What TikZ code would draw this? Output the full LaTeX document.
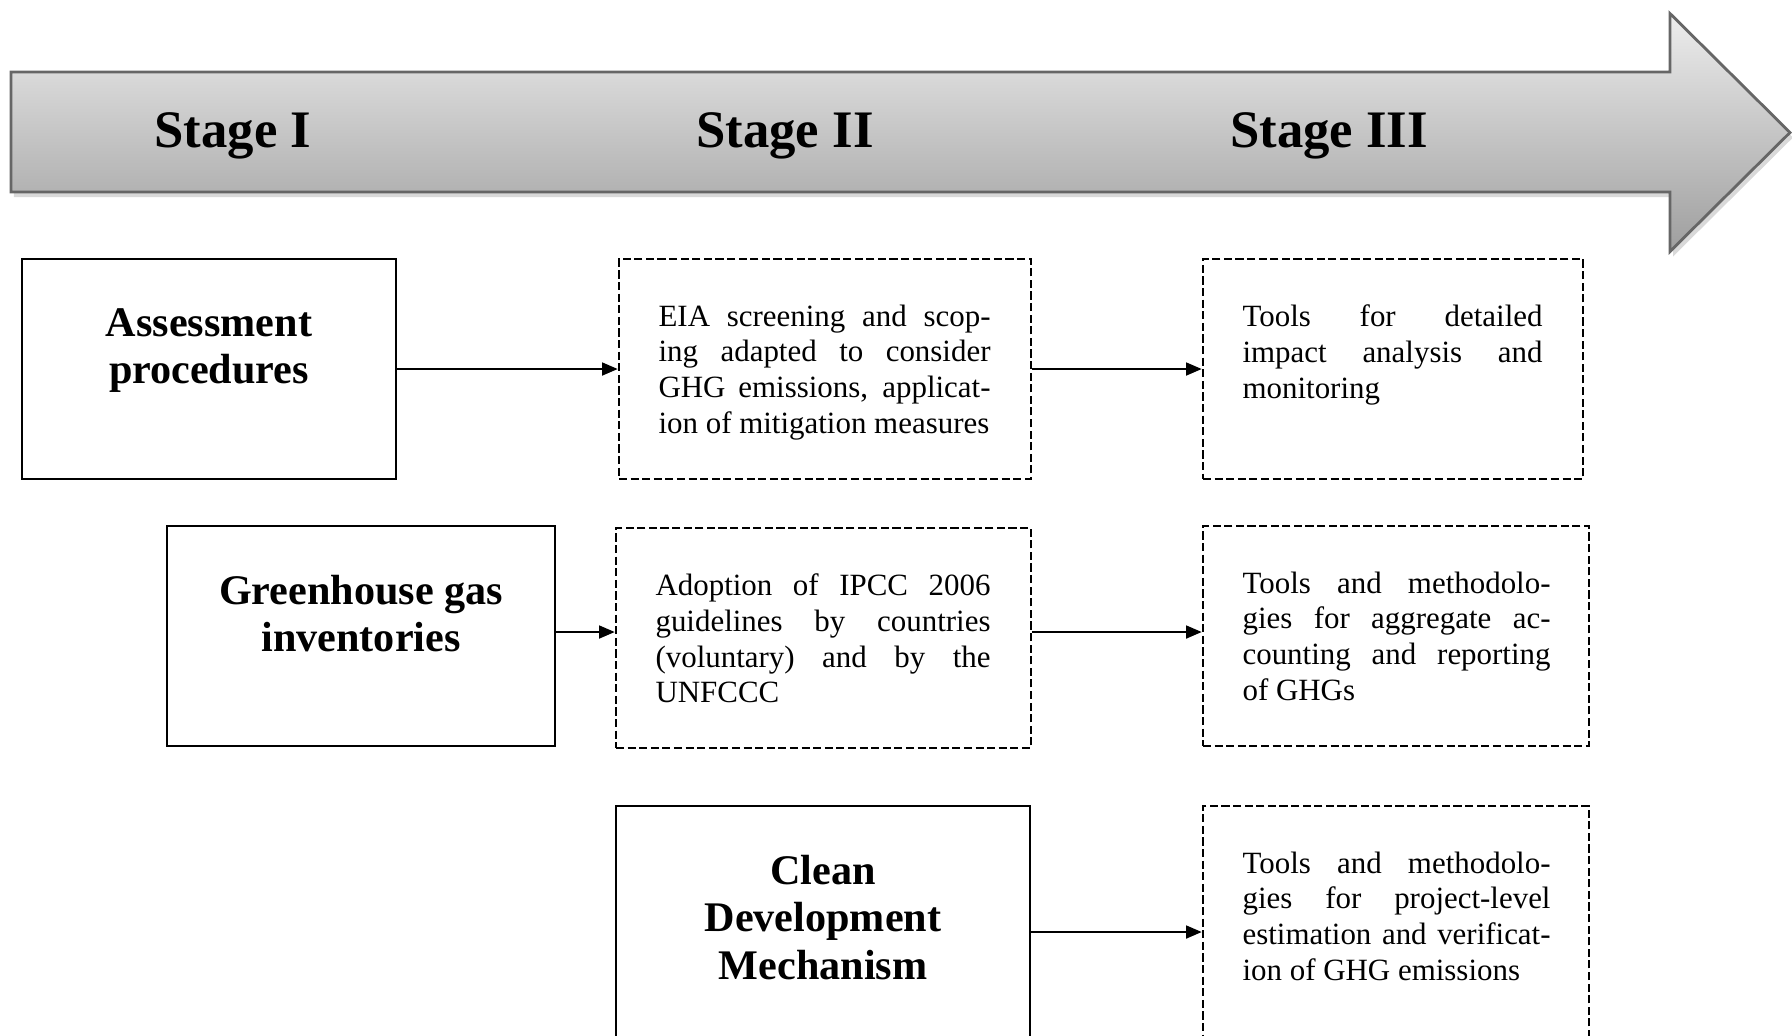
\documentclass[tikz,border=0pt]{standalone}
\usepackage{fontspec}
\setmainfont{Liberation Serif}
\usetikzlibrary{positioning}
\usetikzlibrary{arrows.meta}
\usetikzlibrary{shadows}

\begin{document}
\begin{tikzpicture}[%
  >={Triangle[length=4.5pt,width=3.6pt]},
  plainbox/.style={draw, line width=0.65pt, inner sep=0pt},
  dashbox/.style={plainbox, dash pattern=on 2.3pt off 1pt},
  headtext/.style={align=center, inner sep=0pt,
    font=\fontsize{12}{13.4}\selectfont\bfseries},
  notetext/.style={align=justify, inner sep=0pt,
    font=\fontsize{8.8}{10.2}\selectfont,
    execute at begin node={\tolerance=10000 }},
  stagelabel/.style={anchor=base, font=\fontsize{15}{18}\selectfont\bfseries},
  link/.style={->, line width=0.8pt}
]

  \useasboundingbox (0,0) rectangle (17.92,-10.35);
  \clip (0,0) rectangle (17.92,-10.35);

  \path[draw=black!60, line width=0.8pt, top color=black!7, bottom color=black!38,
        drop shadow={shadow xshift=0.03cm, shadow yshift=-0.05cm, opacity=0.3}]
    (0.11,-0.72) -- (16.70,-0.72) -- (16.70,-0.135) -- (17.90,-1.325)
    -- (16.70,-2.515) -- (16.70,-1.92) -- (0.11,-1.92) -- cycle;

  \node[stagelabel] (stage1) at (2.33,-1.47) {Stage I};
  \node[stagelabel] (stage2) at (7.85,-1.47) {Stage II};
  \node[stagelabel] (stage3) at (13.29,-1.47) {Stage III};

  \node[plainbox, minimum width=3.74cm, minimum height=2.20cm] (assess) at (2.09,-3.69) {};
  \node[dashbox, minimum width=4.12cm, minimum height=2.20cm] (eia) at (8.25,-3.69) {};
  \node[dashbox, minimum width=3.80cm, minimum height=2.20cm] (detail) at (13.93,-3.69) {};

  \node[plainbox, minimum width=3.88cm, minimum height=2.20cm] (ghg) at (3.61,-6.36) {};
  \node[dashbox, minimum width=4.15cm, minimum height=2.20cm] (ipcc) at (8.235,-6.38) {};
  \node[dashbox, minimum width=3.86cm, minimum height=2.20cm] (aggregate) at (13.96,-6.36) {};

  \node[plainbox, minimum width=4.14cm, minimum height=2.52cm] (cdm) at (8.23,-9.32) {};
  \node[dashbox, minimum width=3.86cm, minimum height=2.52cm] (project) at (13.96,-9.32) {};

  \node[headtext, below=0.50cm of assess.north] (assesstext) {Assessment\\procedures};
  \node[headtext, below=0.50cm of ghg.north] (ghgtext) {Greenhouse gas\\inventories};
  \node[headtext, below=0.50cm of cdm.north] (cdmtext) {Clean\\Development\\Mechanism};

  \node[notetext, text width=3.32cm, below right=0.46cm and 0.40cm of eia.north west] (eiatext)
    {EIA screening and scop-\linebreak ing adapted to consider\linebreak GHG emissions, applicat-\linebreak ion of mitigation measures};
  \node[notetext, text width=3.00cm, below right=0.46cm and 0.40cm of detail.north west] (detailtext)
    {Tools for detailed\linebreak impact analysis and\linebreak monitoring};
  \node[notetext, text width=3.35cm, below right=0.46cm and 0.40cm of ipcc.north west] (ipcctext)
    {Adoption of IPCC 2006\linebreak guidelines by countries\linebreak (voluntary) and by the\linebreak UNFCCC};
  \node[notetext, text width=3.08cm, below right=0.46cm and 0.40cm of aggregate.north west] (aggregatetext)
    {Tools and methodolo-\linebreak gies for aggregate ac-\linebreak counting and reporting\linebreak of GHGs};
  \node[notetext, text width=3.08cm, below right=0.46cm and 0.40cm of project.north west] (projecttext)
    {Tools and methodolo-\linebreak gies for project-level\linebreak estimation and verificat-\linebreak ion of GHG emissions};

  \draw[link] (assess) -- (eia);
  \draw[link] (eia) -- (detail);
  \draw[link] ([yshift=0.04cm]ghg.east) -- ([yshift=0.04cm]ghg.east -| ipcc.west);
  \draw[link] ([yshift=0.06cm]ipcc.east) -- ([yshift=0.06cm]ipcc.east -| aggregate.west);
  \draw[link] (cdm) -- (project);

\end{tikzpicture}
\end{document}
